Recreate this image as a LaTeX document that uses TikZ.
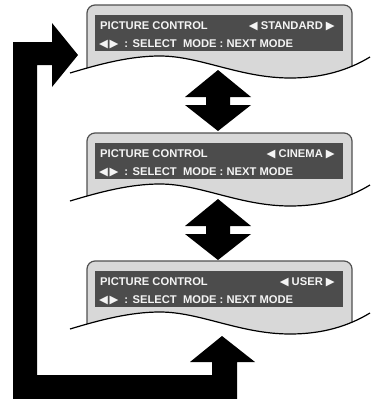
\documentclass[tikz,border=0pt]{standalone}
\usepackage{fontspec}
\setmainfont{Liberation Sans}
\newfontfamily\symfont{DejaVu Sans}
\definecolor{panelgray}{HTML}{D8D8D8}
\definecolor{darkbar}{HTML}{4C4C4C}
\definecolor{bordergray}{HTML}{505050}
\definecolor{txtcol}{HTML}{F4F4F4}
\newcommand{\lt}{{\symfont\fontsize{11.5}{12}\selectfont ◀}}
\newcommand{\rt}{{\symfont\fontsize{11.5}{12}\selectfont ▶}}
\begin{document}
\begin{tikzpicture}[x=1pt,y=-1pt,
  txt/.style={inner sep=0pt, text=txtcol, font=\fontsize{11.2}{13}\selectfont\bfseries},
  panelframe/.style={fill=panelgray, draw=bordergray, line width=1.2pt, rounded corners=8pt},
  wave/.style={draw=black, line width=1.2pt},
  bigarrow/.style={fill=black}]
\useasboundingbox (0,0) rectangle (370,399);
\fill[white] (0,0) rectangle (370,399);
\foreach \dy/\mode/\i in {0/STANDARD/1, 128/CINEMA/2, 256/USER/3} {
  \begin{scope}[shift={(0,\dy)}]
    \begin{scope}
      \clip (70,73) .. controls (100,64) and (130,56) .. (160,56)
        .. controls (200,56) and (240,78) .. (290,78)
        .. controls (330,78) and (355,66) .. (370,57) -- (370,-5) -- (70,-5) -- cycle;
      \path[panelframe] (87,5) rectangle (352,110);
    \end{scope}
    \fill[darkbar] (95,15) rectangle (343,51);
    \node[txt, anchor=base west] (title\i) at (100,29) {PICTURE CONTROL};
    \node[txt, anchor=base east] (mode\i) at (335,29) {\lt\ \mode\ \rt};
    \node[txt, anchor=base west] (help\i) at (99,47) {\lt\kern1.5pt\rt\hspace{6pt}:\hspace{4.5pt}SELECT\ \ MODE : NEXT MODE};
    \path[wave] (70,73) .. controls (100,64) and (130,56) .. (160,56)
        .. controls (200,56) and (240,78) .. (290,78)
        .. controls (330,78) and (355,66) .. (370,57);
  \end{scope}
}
\foreach \dy in {0,129} {
  \fill[bigarrow, shift={(0,\dy)}] (218,70) -- (251,97) -- (230,97) -- (230,105) -- (251,105)
    -- (218,131) -- (185,105) -- (206,105) -- (206,97) -- (185,97) -- cycle;
}
\fill[bigarrow] (13,42) -- (52,42) -- (52,23) -- (78,55) -- (52,87) -- (52,65) -- (37,65)
  -- (37,375) -- (212,375) -- (212,362) -- (190,362) -- (222,336) -- (255,362) -- (237,362)
  -- (237,399) -- (13,399) -- cycle;
\end{tikzpicture}
\end{document}
